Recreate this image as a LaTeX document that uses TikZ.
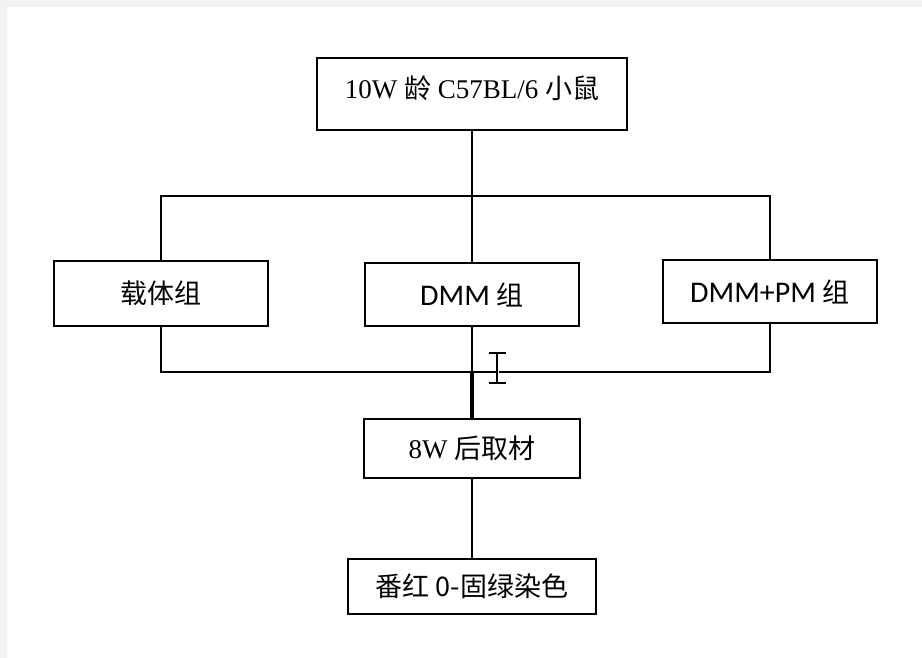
\documentclass[tikz,border=0pt]{standalone}
\usepackage{fontspec}
\setmainfont{Liberation Serif}
\newfontfamily\cjk{Noto Sans CJK SC}
\newfontfamily\latinsans{Carlito}
\begin{document}
\begin{tikzpicture}[x=1pt,y=-1pt,
  box/.style={draw=black,line width=2.4pt,fill=white,rectangle,inner sep=0pt,
    font=\fontsize{27}{31}\selectfont},
  conn/.style={draw=black,line width=2.4pt},
  thickconn/.style={draw=black,line width=3.8pt}]
\useasboundingbox (0,0) rectangle (922,658);
\fill[gray!10] (0,0) rectangle (922,658);
\fill[white] (7,7) rectangle (922,658);
% boxes
\node[box,minimum width=310pt,minimum height=72pt] (top) at (472,94) {};
\node[font=\fontsize{27}{31}\selectfont] (toptxt) at (472,88) {10W {\cjk 龄} C57BL/6 {\cjk 小鼠}};
\node[box,minimum width=214pt,minimum height=65pt] (left) at (161,293.5) {\cjk 载体组};
\node[box,minimum width=214pt,minimum height=63pt] (mid) at (472,294.5) {{\latinsans\fontsize{30}{34}\selectfont DMM} {\cjk 组}};
\node[box,minimum width=214pt,minimum height=63pt] (right) at (770,291.5) {{\latinsans\fontsize{30}{34}\selectfont DMM+PM} {\cjk 组}};
\node[box,minimum width=216pt,minimum height=59pt] (rear) at (472,448.5) {8W {\cjk 后取材}};
\node[box,minimum width=248pt,minimum height=55pt] (stain) at (472,586.5) {\cjk 番红 0-固绿染色};
% junctions
\coordinate (j1) at (472,196);
\coordinate (j2) at (472,372);
% connectors
\draw[conn] (top.south) -- (j1);
\draw[conn] (left.north) |- (j1);
\draw[conn] (j1) -| (right.north);
\draw[conn] (mid.north) -- (j1);
\draw[conn] (left.south) |- (j2);
\draw[conn] (j2) -| (right.south);
\draw[conn] (mid.south) -- (j2);
\draw[thickconn] (j2) -- (rear.north);
\draw[conn] (rear.south) -- (stain.north);
% text cursor
\draw[white,line width=3pt] (497,356) -- (497,380);
\draw[black,line width=1.6pt] (497,353) -- (497,383);
\draw[black,line width=1.6pt] (489,353) -- (506,353);
\draw[black,line width=1.6pt] (489,383) -- (506,383);
\end{tikzpicture}
\end{document}
